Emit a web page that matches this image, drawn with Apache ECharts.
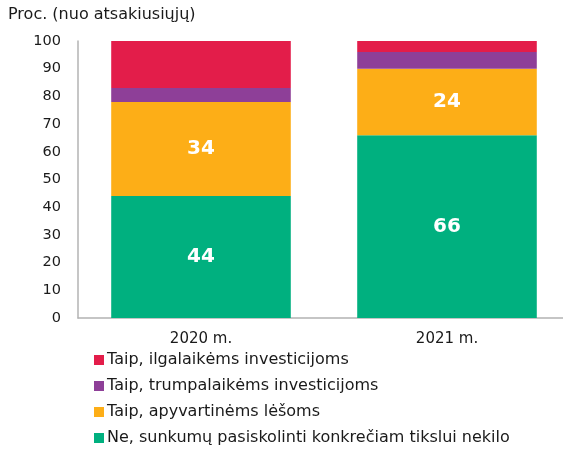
<!DOCTYPE html>
<html>
<head>
<meta charset="utf-8">
<script src="https://cdn.jsdelivr.net/npm/echarts@6/dist/echarts.min.js"></script>
<style>
  html, body { margin: 0; padding: 0; background: #fff; overflow: hidden; }
  #chart { width: 570px; height: 450px; }
</style>
</head>
<body>
<div id="chart"></div>
<script>
const categories = ['2020 m.', '2021 m.'];
const seriesNames = [
  'Ne, sunkumų pasiskolinti konkrečiam tikslui nekilo',
  'Taip, apyvartinėms lėšoms',
  'Taip, trumpalaikėms investicijoms',
  'Taip, ilgalaikėms investicijoms'
];
const noDifficulty = [44, 66];
const workingCapital = [34, 24];
const shortTerm = [5, 6];
const longTerm = [17, 4];
const yTicks = [0, 10, 20, 30, 40, 50, 60, 70, 80, 90, 100];

const colors = ['#00b07f', '#fdae17', '#8e3f98', '#e31d4a'];
const font = 'DejaVu Sans';

const chart = echarts.init(document.getElementById('chart'), null, { renderer: 'canvas' });

function makeSeries(name, data, color, showLabel) {
  return {
    name,
    type: 'bar',
    stack: 'total',
    barWidth: '73%',
    data,
    itemStyle: { color },
    label: {
      show: showLabel,
      color: '#fff',
      fontWeight: 'bold',
      fontSize: 20,
      fontFamily: font
    }
  };
}

chart.setOption({
  animation: false,
  textStyle: { fontFamily: font },
  title: {
    text: 'Proc. (nuo atsakiusiųjų)',
    left: 3,
    top: 2,
    textStyle: { fontSize: 16, fontWeight: 'normal', color: '#1a1a1a', fontFamily: font }
  },
  legend: {
    orient: 'vertical',
    left: 94,
    top: 352,
    height: 98,
    padding: 0,
    itemWidth: 10,
    itemHeight: 10,
    itemGap: 10,
    icon: 'rect',
    data: [seriesNames[3], seriesNames[2], seriesNames[1], seriesNames[0]],
    textStyle: { fontSize: 16, color: '#1a1a1a', fontFamily: font, padding: [0, 0, 0, -2] }
  },
  grid: {
    left: 78,
    right: 0,
    top: 41,
    bottom: 132
  },
  xAxis: {
    type: 'category',
    data: categories,
    axisTick: { show: false },
    axisLine: { lineStyle: { color: '#b3b3b3', width: 1.5 } },
    axisLabel: { fontSize: 15, color: '#1a1a1a', margin: 14, fontFamily: font }
  },
  yAxis: {
    type: 'value',
    min: yTicks[0],
    max: yTicks[yTicks.length - 1],
    interval: 10,
    splitLine: { show: false },
    axisTick: { show: false },
    axisLine: { show: true, lineStyle: { color: '#b3b3b3', width: 1.5 } },
    axisLabel: { fontSize: 14.5, color: '#1a1a1a', margin: 17, fontFamily: font }
  },
  series: [
    makeSeries(seriesNames[0], noDifficulty, colors[0], true),
    makeSeries(seriesNames[1], workingCapital, colors[1], true),
    makeSeries(seriesNames[2], shortTerm, colors[2], false),
    makeSeries(seriesNames[3], longTerm, colors[3], false)
  ]
});
</script>
</body>
</html>
